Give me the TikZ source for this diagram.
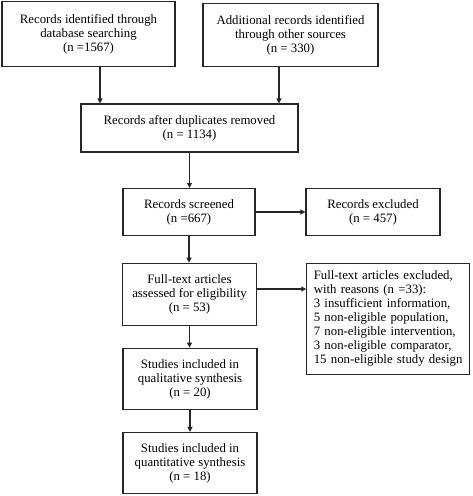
\documentclass[tikz,border=0pt]{standalone}
\usepackage{fontspec}
\setmainfont{Liberation Serif}
\usetikzlibrary{arrows.meta}
\begin{document}
\begin{tikzpicture}[x=1pt,y=-1pt,
  box/.style={draw=black!85,line width=1.1pt,align=center,font=\fontsize{12.8}{14}\selectfont,inner sep=0pt},
  arr/.style={draw=black!85,line width=1.1pt,-{Triangle[length=5pt,width=5pt]}}]
\useasboundingbox (0,0) rectangle (472,496);
\node[box,minimum width=173pt,minimum height=65pt] (A) at (88.5,34) {Records identified through\\database searching\\(n =1567)};
\node[box,minimum width=175pt,minimum height=63.5pt] (B) at (290.5,35) {Additional records identified\\through other sources\\(n = 330)};
\node[box,minimum width=217pt,minimum height=48pt] (C) at (189.5,128) {Records after duplicates removed\\(n = 1134)};
\node[box,minimum width=132pt,minimum height=47pt] (D) at (189,212) {Records screened\\(n =667)};
\node[box,minimum width=134pt,minimum height=47pt] (E) at (373,212) {Records excluded\\(n = 457)};
\node[box,minimum width=134pt,minimum height=62.5pt] (F) at (189.5,294.5) {Full-text articles\\assessed for eligibility\\(n = 53)};
\node[box,align=left,text width=149pt,minimum height=110.7pt,inner xsep=7pt] (G) at (388.3,318.7) {Full-text articles excluded,\\with reasons (n =33):\\3 insufficient information,\\5 non-eligible population,\\7 non-eligible intervention,\\3 non-eligible comparator,\\15 non-eligible study design};
\node[box,minimum width=134pt,minimum height=61.7pt] (H) at (190,379) {Studies included in\\qualitative synthesis\\(n = 20)};
\node[box,minimum width=134pt,minimum height=61pt] (I) at (190,463) {Studies included in\\quantitative synthesis\\(n = 18)};
\draw[arr] ([xshift=11.5pt]A.south) -- ([xshift=11.5pt]A.south |- C.north);
\draw[arr] ([xshift=-11.5pt]B.south) -- ([xshift=-11.5pt]B.south |- C.north);
\draw[arr] (C.south) -- (C.south |- D.north);
\draw[arr] (D.east) -- (E.west);
\draw[arr] (D.south) -- (D.south |- F.north);
\draw[arr] ([yshift=5.5pt]F.east) -- ([yshift=5.5pt]F.east -| G.west);
\draw[arr] (F.south) -- (F.south |- H.north);
\draw[arr] (H.south) -- (I.north);
\end{tikzpicture}
\end{document}
